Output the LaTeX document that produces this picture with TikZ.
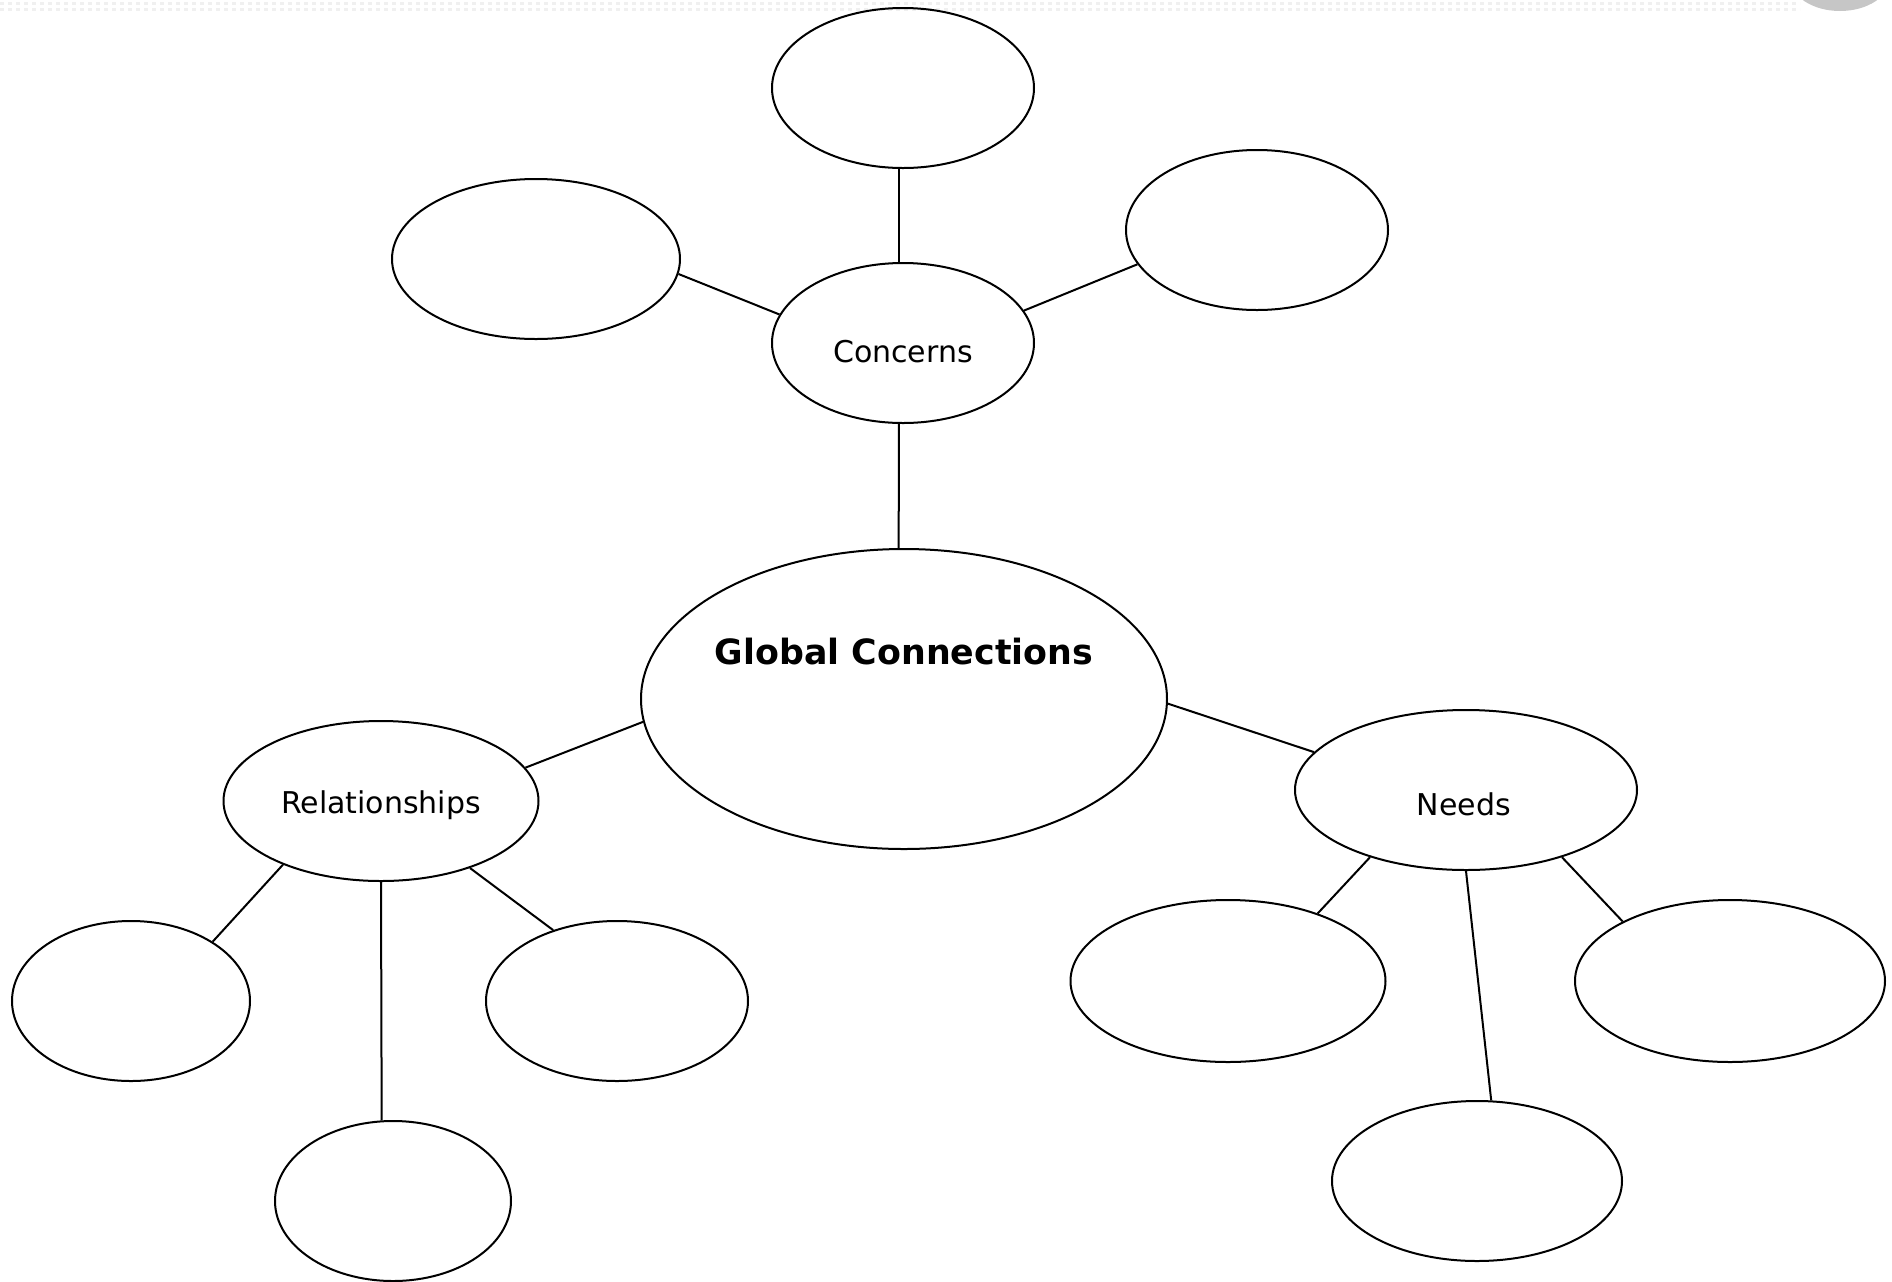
\documentclass[tikz,border=0pt]{standalone}
\usepackage{fontspec}
\setmainfont{DejaVu Sans}
\usetikzlibrary{shapes.geometric}
\begin{document}
\begin{tikzpicture}[x=0.5pt,y=-0.5pt,
  bub/.style={ellipse, draw, line width=1pt, inner sep=0pt},
  lbl/.style={inner sep=0pt, font=\fontsize{15}{17}\selectfont},
  bigl/.style={inner sep=0pt, font=\fontsize{17.4}{20}\selectfont\bfseries},
  link/.style={line width=1pt}]
\useasboundingbox (0,0) rectangle (1892,1281);
% faint scan artefacts at the top edge
\draw[gray!12, line width=1.5pt, dash pattern=on 2pt off 2pt] (0,3) -- (1800,3);
\draw[gray!12, line width=1.5pt, dash pattern=on 2pt off 2pt] (0,9) -- (1800,9);
\fill[gray!45] (1840,-22) ellipse [x radius=50, y radius=33];
% bubbles
\node[bub, minimum width=131pt, minimum height=80pt] (top) at (903,88) {};
\node[bub, minimum width=144pt, minimum height=80pt] (lu) at (536,259) {};
\node[bub, minimum width=131pt, minimum height=80pt] (ru) at (1257,230) {};
\node[bub, minimum width=131pt, minimum height=80pt] (concerns) at (903,343) {};
\node[bub, minimum width=263pt, minimum height=150pt] (global) at (904,699) {};
\node[bub, minimum width=157.5pt, minimum height=80pt] (rel) at (381,801) {};
\node[bub, minimum width=171pt, minimum height=80pt] (needs) at (1466,790) {};
\node[bub, minimum width=119pt, minimum height=80pt] (ll1) at (131,1001) {};
\node[bub, minimum width=131pt, minimum height=80pt] (ll2) at (617,1001) {};
\node[bub, minimum width=118pt, minimum height=80pt] (ll3) at (393,1201) {};
\node[bub, minimum width=157.5pt, minimum height=81pt] (r1) at (1228,981) {};
\node[bub, minimum width=155pt, minimum height=81pt] (r2) at (1730,981) {};
\node[bub, minimum width=145pt, minimum height=80pt] (r3) at (1477,1181) {};
% texts
\node[lbl] (tconcerns) at (903,352) {Concerns};
\node[lbl] (trel) at (381,805) {Relationships};
\node[lbl] (tneeds) at (1464,804) {Needs};
\node[bigl] (tglobal) at (904,652) {Global Connections};
% connectors
\draw[link] (top.-93.6) -- (concerns.93.6);
\draw[link] (lu.-6.8) -- (concerns.167);
\draw[link] (concerns.15.4) -- (ru.-164.2);
\draw[link] (concerns.-93.6) -- (global.92.3);
\draw[link] (global.185.5) -- (rel.13.8);
\draw[link] (global.-1.5) -- (needs.166.7);
\draw[link] (rel.-147.8) -- (ll1.36);
\draw[link] (rel.-90) -- (ll3.98.5);
\draw[link] (rel.-37.6) -- (ll2.132.9);
\draw[link] (needs.-145.1) -- (r1.37.8);
\draw[link] (needs.-90) -- (r3.80.9);
\draw[link] (needs.-35.9) -- (r2.151);
\end{tikzpicture}
\end{document}
